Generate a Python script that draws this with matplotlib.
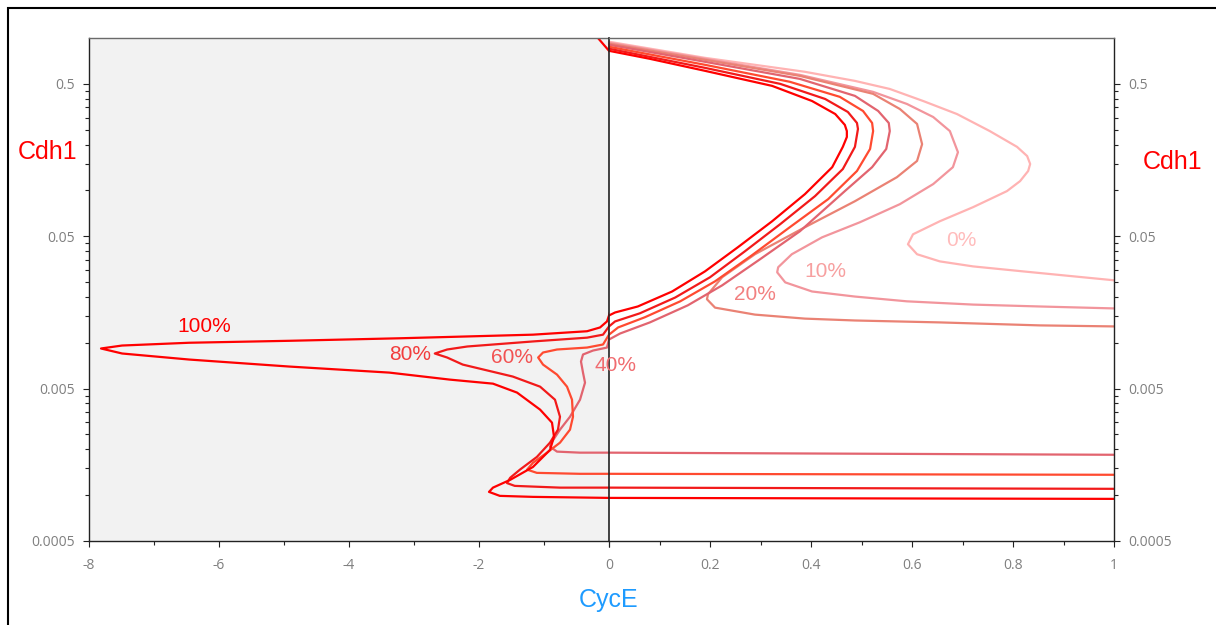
import matplotlib
matplotlib.use("Agg")
import matplotlib.pyplot as plt
from matplotlib.patches import Rectangle
from matplotlib.ticker import FixedLocator, NullFormatter

# Cdh1 vs CycE bifurcation curves, one per percentage
pct_labels = ['0%', '10%', '20%', '40%', '60%', '80%', '100%']

cyce_0 = [0, 0.190, 0.388, 0.487, 0.556, 0.622, 0.689, 0.754, 0.808, 0.828, 0.834, 0.830, 0.814,
          0.788, 0.721, 0.655, 0.602, 0.592, 0.610, 0.655, 0.721, 0.820, 0.919, 1.0]
cdh1_0 = [0.945, 0.741, 0.600, 0.523, 0.463, 0.386, 0.317, 0.245, 0.193, 0.168, 0.149, 0.134, 0.115,
          0.0989, 0.0776, 0.0627, 0.0515, 0.0443, 0.0381, 0.0342, 0.0317, 0.0294, 0.0273, 0.0257]

cyce_10 = [0, 0.190, 0.378, 0.523, 0.590, 0.642, 0.675, 0.691, 0.681, 0.642, 0.576, 0.497, 0.422,
           0.362, 0.335, 0.333, 0.349, 0.402, 0.487, 0.590, 0.721, 0.853, 1.0]
cdh1_10 = [0.930, 0.730, 0.573, 0.443, 0.369, 0.303, 0.245, 0.178, 0.142, 0.110, 0.0812, 0.0618, 0.0492,
           0.0381, 0.0313, 0.0290, 0.0249, 0.0217, 0.0201, 0.0187, 0.0178, 0.0173, 0.0168]

cyce_20 = [0, 0.190, 0.378, 0.523, 0.576, 0.610, 0.620, 0.610, 0.570, 0.487, 0.388, 0.289, 0.224,
           0.196, 0.194, 0.210, 0.289, 0.388, 0.487, 0.655, 0.853, 1.0]
cdh1_20 = [0.917, 0.719, 0.564, 0.430, 0.342, 0.273, 0.201, 0.156, 0.122, 0.0849, 0.0573, 0.0381, 0.0269,
           0.0208, 0.0193, 0.0170, 0.0153, 0.0144, 0.0140, 0.0136, 0.0130, 0.0128]

cyce_40 = [0, 0.190, 0.378, 0.487, 0.533, 0.554, 0.556, 0.549, 0.521, 0.467, 0.378, 0.299, 0.224,
           0.156, 0.081, 0.022, 0, -0.031, -0.246, -0.40, -0.431, -0.40, -0.369, -0.446, -0.60,
           -0.754, -0.877, -0.908, -0.80, -0.446, 0, 1.0]
cdh1_40 = [0.903, 0.698, 0.539, 0.417, 0.332, 0.277, 0.245, 0.187, 0.142, 0.0989, 0.0539, 0.0353, 0.0238,
           0.0176, 0.0136, 0.0115, 0.0105, 0.00930, 0.00889, 0.00837, 0.00753, 0.00637, 0.00547, 0.00423,
           0.00327, 0.00269, 0.00224, 0.00208, 0.00193, 0.00190, 0.00190, 0.00184]

cyce_60 = [0, 0.190, 0.358, 0.457, 0.503, 0.521, 0.523, 0.517, 0.491, 0.434, 0.358, 0.283, 0.210,
           0.141, 0.071, 0.018, 0, -0.092, -0.338, -0.80, -1.015, -1.09, -1.015, -0.80, -0.646,
           -0.569, -0.554, -0.60, -0.754, -0.954, -1.17, -1.26, -1.11, -0.446, 0, 1.0]
cdh1_60 = [0.876, 0.667, 0.516, 0.411, 0.332, 0.277, 0.245, 0.187, 0.134, 0.0876, 0.0573, 0.0375, 0.0253,
           0.0187, 0.0147, 0.0126, 0.0113, 0.00974, 0.00930, 0.00903, 0.00863, 0.00800, 0.00719, 0.00618,
           0.00515, 0.00423, 0.00327, 0.00269, 0.00221, 0.00190, 0.00163, 0.00147, 0.00140, 0.00138,
           0.00138, 0.00136]

cyce_80 = [0, 0.190, 0.339, 0.428, 0.473, 0.491, 0.493, 0.487, 0.463, 0.408, 0.339, 0.269, 0.200,
           0.131, 0.061, 0.012, 0, -0.092, -0.338, -1.17, -2.18, -2.49, -2.68, -2.49, -2.25, -1.48,
           -1.06, -0.831, -0.754, -0.785, -0.908, -1.11, -1.37, -1.52, -1.57, -1.45, -0.754, 0, 1.0]
cdh1_80 = [0.850, 0.637, 0.500, 0.398, 0.327, 0.277, 0.253, 0.193, 0.138, 0.0917, 0.0600, 0.0398, 0.0269,
           0.0198, 0.0156, 0.0138, 0.0128, 0.0113, 0.0108, 0.0102, 0.00945, 0.00903, 0.00850, 0.00800,
           0.00719, 0.00600, 0.00515, 0.00423, 0.00327, 0.00269, 0.00221, 0.00178, 0.00147, 0.00130,
           0.00120, 0.00115, 0.00112, 0.00112, 0.00110]

cyce_100 = [-0.17, 0, 0.081, 0.190, 0.323, 0.402, 0.448, 0.467, 0.471, 0.471, 0.463, 0.442, 0.388,
            0.323, 0.255, 0.190, 0.125, 0.057, 0.012, 0, -0.031, -0.138, -0.338, -1.17, -2.18, -3.22,
            -4.92, -6.46, -7.49, -7.815, -7.49, -6.46, -4.92, -3.38, -2.45, -1.785, -1.415, -1.06,
            -0.877, -0.846, -0.908, -1.17, -1.52, -1.785, -1.846, -1.68, -1.17, 0, 1.0]
cdh1_100 = [1.0, 0.824, 0.730, 0.609, 0.485, 0.386, 0.317, 0.269, 0.245, 0.224, 0.193, 0.142, 0.0945,
            0.0627, 0.0423, 0.0294, 0.0217, 0.0173, 0.0158, 0.0151, 0.0138, 0.0126, 0.0119, 0.0113,
            0.0110, 0.0107, 0.0103, 0.0100, 0.00959, 0.00917, 0.00850, 0.00776, 0.00698, 0.00637,
            0.00573, 0.00539, 0.00471, 0.00364, 0.00299, 0.00242, 0.00198, 0.00153, 0.00126, 0.00112,
            0.00105, 0.000989, 0.000974, 0.000959, 0.000945]

curves_x = [cyce_0, cyce_10, cyce_20, cyce_40, cyce_60, cyce_80, cyce_100]
curves_y = [cdh1_0, cdh1_10, cdh1_20, cdh1_40, cdh1_60, cdh1_80, cdh1_100]
line_colors = ['#ffb3b3', '#f2959c', '#ea8274', '#e2646f', '#ff4a30', '#f21a1a', '#ff0000']
text_colors = ['#ffbcbc', '#f7a0a0', '#f28080', '#f06c70', '#f25252', '#f23c3c', '#ff0000']
# label anchor (CycE, Cdh1)
label_x = [0.697, 0.428, 0.289, 0.012, -1.49, -3.06, -6.23]
label_y = [0.0470, 0.0294, 0.0208, 0.00708, 0.0080, 0.00837, 0.0128]

ytick_major = [0.0005, 0.005, 0.05, 0.5]
ytick_labels = ['0.0005', '0.005', '0.05', '0.5']
ytick_minor = [k * m for m in [0.0005, 0.005, 0.05] for k in range(2, 10)]

W, H = 1216, 625
fig = plt.figure(figsize=(W / 100, H / 100), dpi=100)
ax_l = fig.add_axes([89 / W, 84 / H, 520 / W, 503 / H])
ax_r = fig.add_axes([609 / W, 84 / H, 505 / W, 503 / H])

ax_l.set_facecolor('#f2f2f2')

for xs, ys, c in zip(curves_x, curves_y, line_colors):
    for ax in (ax_l, ax_r):
        ax.plot(xs, ys, color=c, lw=1.6, solid_joinstyle='round', solid_capstyle='round')

tick_font = {'family': 'Open Sans', 'size': 10, 'color': '#7f7f7f'}

for ax in (ax_l, ax_r):
    ax.set_yscale('log')
    ax.set_ylim(0.0005, 1.0)
    ax.yaxis.set_major_locator(FixedLocator(ytick_major))
    ax.yaxis.set_minor_locator(FixedLocator(ytick_minor))
    ax.yaxis.set_minor_formatter(NullFormatter())
    ax.tick_params(which='both', direction='out', color='#222222', width=0.8)
    ax.tick_params(which='major', length=4)
    ax.tick_params(which='minor', length=2.8)
    ax.spines['top'].set_color('#6a6a6a')
    for s in ('left', 'right', 'bottom'):
        ax.spines[s].set_color('#222222')
    for s in ax.spines.values():
        s.set_linewidth(1.0)

# left panel: negative CycE
ax_l.set_xlim(-8, 0)
ax_l.set_xticks([-8, -6, -4, -2, 0])
ax_l.set_xticklabels(['-8', '-6', '-4', '-2', '0'], fontdict=tick_font)
ax_l.xaxis.set_minor_locator(FixedLocator([-7, -5, -3, -1]))
ax_l.set_yticklabels(ytick_labels, fontdict=tick_font)
ax_l.tick_params(axis='x', pad=8)
ax_l.tick_params(axis='y', pad=6, right=False, which='both')
ax_l.spines['right'].set_visible(False)

# right panel: positive CycE
ax_r.set_xlim(0, 1)
ax_r.set_xticks([0, 0.2, 0.4, 0.6, 0.8, 1.0])
ax_r.set_xticklabels(['', '0.2', '0.4', '0.6', '0.8', '1'], fontdict=tick_font)
ax_r.xaxis.set_minor_locator(FixedLocator([0.1, 0.3, 0.5, 0.7, 0.9]))
ax_r.yaxis.tick_right()
ax_r.set_yticklabels(ytick_labels, fontdict=tick_font)
ax_r.tick_params(axis='x', pad=8)
ax_r.tick_params(axis='y', pad=6, left=False, which='both')
ax_r.spines['left'].set_linewidth(1.2)

for i, s in enumerate(pct_labels):
    ax = ax_r if label_x[i] > 0 else ax_l
    ax.text(label_x[i], label_y[i], s, color=text_colors[i], fontsize=15,
            family='Liberation Sans', ha='center', va='center')

ax_l.set_ylabel('Cdh1', rotation=0, color='#ff0000', fontsize=18, family='Liberation Sans',
                ha='center', va='center')
ax_l.yaxis.set_label_coords(-0.079, 0.773)
ax_r.yaxis.set_label_position('right')
ax_r.set_ylabel('Cdh1', rotation=0, color='#ff0000', fontsize=18, family='Liberation Sans',
                ha='center', va='center')
ax_r.yaxis.set_label_coords(1.115, 0.753)
ax_l.set_xlabel('CycE', color='#1e9bff', fontsize=18, family='Liberation Sans',
                ha='center', va='center')
ax_l.xaxis.set_label_coords(1.0, -0.117)

# outer frame, open to the right and bottom
fig.patches.append(Rectangle((8 / W, -0.2), 2, 1.2 - 8 / H, transform=fig.transFigure,
                             fill=False, ec='black', lw=1.5))

fig.savefig('out.png', dpi=100)
